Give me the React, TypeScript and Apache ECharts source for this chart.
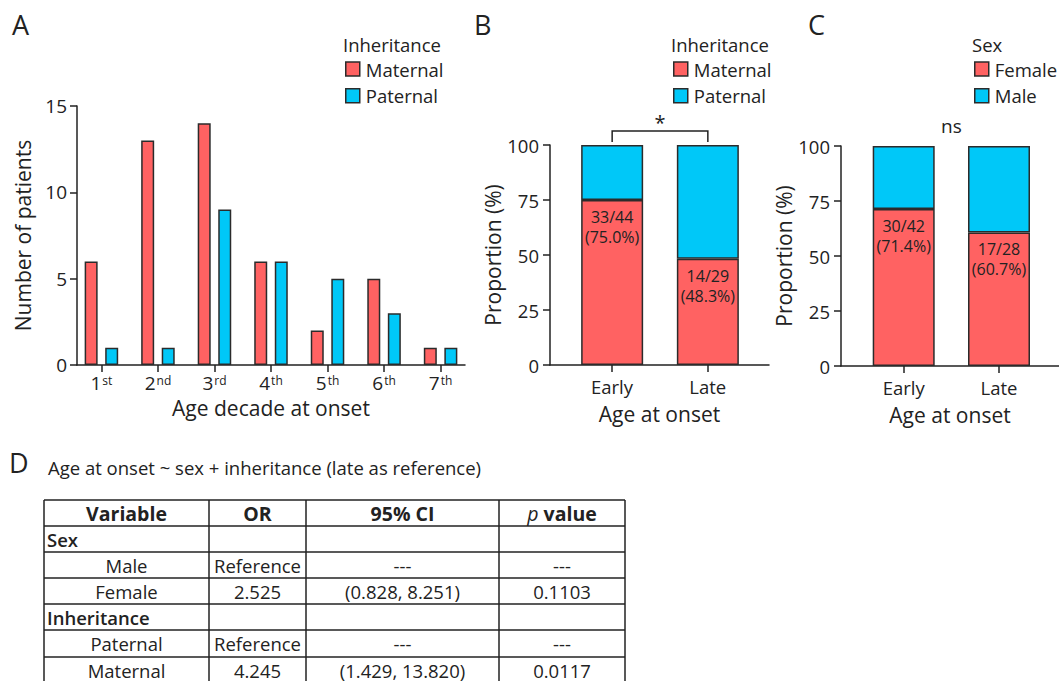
import React, { useEffect, useRef } from 'react';
import * as echarts from 'echarts';

// ---------- data ----------
const decadeNumbers = ['1', '2', '3', '4', '5', '6', '7'];
const decadeSuffix = ['st', 'nd', 'rd', 'th', 'th', 'th', 'th'];
const maternalByDecade = [6, 13, 14, 6, 2, 5, 1];
const paternalByDecade = [1, 1, 9, 6, 5, 3, 1];

const onsetGroups = ['Early', 'Late'];
const inhMaternalPct = [75.0, 48.3];
const inhPaternalPct = [25.0, 51.7];
const inhMaternalCount = ['33/44', '14/29'];

const sexFemalePct = [71.4, 60.7];
const sexMalePct = [28.6, 39.3];
const sexFemaleCount = ['30/42', '17/28'];

const sigB = '*';
const sigC = 'ns';

const tableTitle = 'Age at onset ~ sex + inheritance (late as reference)';
const tableHeader = ['Variable', 'OR', '95% CI', '{i|p} value'];
const tableRows = [
  ['Sex', '', '', ''],
  ['Male', 'Reference', '---', '---'],
  ['Female', '2.525', '(0.828, 8.251)', '0.1103'],
  ['Inheritance', '', '', ''],
  ['Paternal', 'Reference', '---', '---'],
  ['Maternal', '4.245', '(1.429, 13.820)', '0.0117'],
];
const groupRow = [true, false, false, true, false, false];

// ---------- style ----------
const FONT = '"Open Sans", "Noto Sans", sans-serif';
const INK = '#222222';
const RED = '#FF6262';
const BLUE = '#00C8F8';
const EDGE = '#2b2b2b';

const colEdges = [44, 209, 306, 499, 625];
const rowEdges = [500, 526, 552, 578, 604, 630, 657, 683];

const axisCommon = {
  axisLine: { show: true, lineStyle: { color: INK, width: 1.5 } },
  axisTick: { show: true, length: 7, lineStyle: { color: INK, width: 1.5 } },
  splitLine: { show: false },
};

const yAxisVisible = (gridIndex: number, max: number, interval: number, name: string, nameGap: number, fs: number, margin: number) => ({
  type: 'value',
  gridIndex,
  min: 0,
  max,
  interval,
  name,
  nameLocation: 'middle',
  nameRotate: 90,
  nameGap,
  nameTextStyle: { fontSize: 21, color: INK, fontFamily: FONT },
  ...axisCommon,
  axisLabel: { fontSize: fs, color: INK, fontFamily: FONT, margin },
});

const yAxisHidden = (gridIndex: number) => ({
  type: 'value',
  gridIndex,
  min: 0,
  max: 100,
  show: false,
  splitLine: { show: false },
});

// axis carrying the visible x line, ticks and labels of panels B and C
const xAxisGroupsLine = (gridIndex: number, min: number, max: number, nameGap: number) => ({
  type: 'value',
  gridIndex,
  min,
  max,
  name: 'Age at onset',
  nameLocation: 'middle',
  nameGap,
  nameTextStyle: { fontSize: 21, color: INK, fontFamily: FONT },
  ...axisCommon,
  axisTick: { ...axisCommon.axisTick, customValues: [1, 2] },
  axisLabel: {
    customValues: [1, 2],
    fontSize: 18.5,
    lineHeight: 20,
    color: INK,
    fontFamily: FONT,
    margin: 11,
    formatter: (v: number) => onsetGroups[Math.round(v) - 1] ?? '',
  },
});

// category axis on which the stacked bars of panels B and C are laid out
const xAxisGroupsBars = (gridIndex: number) => ({
  type: 'category',
  gridIndex,
  data: onsetGroups,
  show: false,
});

const barEdge = { borderColor: EDGE, borderWidth: 1.5 };

const legendBase = (left: number, data: string[]) => ({
  left,
  top: 59,
  orient: 'vertical',
  padding: 0,
  itemWidth: 14,
  itemHeight: 14,
  itemGap: 6.7,
  icon: 'rect',
  itemStyle: { borderColor: EDGE, borderWidth: 1.5 },
  textStyle: { fontSize: 18.5, lineHeight: 20, color: INK, fontFamily: FONT, padding: [0, 0, 0, 1] },
  selectedMode: false,
  data,
});

const pctLabel = (counts: string[], pcts: number[]) => ({
  show: true,
  position: 'insideTop',
  distance: 7,
  fontSize: 16,
  lineHeight: 20,
  color: INK,
  fontFamily: FONT,
  formatter: (p: any) => `${counts[p.dataIndex]}\n(${pcts[p.dataIndex].toFixed(1)}%)`,
});

const option: any = {
  animation: false,
  backgroundColor: '#ffffff',
  textStyle: { fontFamily: FONT },
  grid: [
    { left: 77, top: 106, width: 388, height: 259 },
    { left: 550, top: 145, width: 219, height: 220 },
    { left: 841, top: 146, width: 218, height: 220 },
    { left: 564.3, top: 145, width: 191.4, height: 220 },
    { left: 856.05, top: 146, width: 190.6, height: 220 },
  ],
  legend: [
    legendBase(345, ['Maternal', 'Paternal']),
    legendBase(673, ['Maternal', 'Paternal']),
    legendBase(974, ['Female', 'Male']),
  ],
  xAxis: [
    {
      type: 'value',
      gridIndex: 0,
      min: 0.568,
      max: 7.432,
      name: 'Age decade at onset',
      nameLocation: 'middle',
      nameGap: 32,
      nameTextStyle: { fontSize: 21, color: INK, fontFamily: FONT },
      ...axisCommon,
      axisTick: { ...axisCommon.axisTick, customValues: [1, 2, 3, 4, 5, 6, 7] },
      axisLabel: {
        customValues: [1, 2, 3, 4, 5, 6, 7],
        margin: 9,
        formatter: (v: number) => {
          const i = Math.round(v) - 1;
          return `{n|${decadeNumbers[i]}}{s|${decadeSuffix[i]}}`;
        },
        rich: {
          n: { fontSize: 19, color: INK, fontFamily: FONT, lineHeight: 18, verticalAlign: 'bottom' },
          s: { fontSize: 12, color: INK, fontFamily: FONT, lineHeight: 18, verticalAlign: 'top', padding: [0, 0, 0, 1] },
        },
      },
    },
    xAxisGroupsLine(1, 0.352, 2.64, 38),
    xAxisGroupsLine(2, 0.342, 2.63, 38),
    xAxisGroupsBars(3),
    xAxisGroupsBars(4),
  ],
  yAxis: [
    yAxisVisible(0, 15, 5, 'Number of patients', 44, 19, 10),
    yAxisVisible(1, 100, 25, 'Proportion (%)', 43, 18.5, 11),
    yAxisVisible(2, 100, 25, 'Proportion (%)', 41, 18.5, 11),
    yAxisHidden(3),
    yAxisHidden(4),
  ],
  series: [
    {
      name: 'Maternal',
      type: 'bar',
      xAxisIndex: 0,
      yAxisIndex: 0,
      barWidth: 13,
      barGap: '58%',
      itemStyle: { color: RED, ...barEdge },
      data: maternalByDecade.map((v, i) => [i + 1, v]),
    },
    {
      name: 'Paternal',
      type: 'bar',
      xAxisIndex: 0,
      yAxisIndex: 0,
      barWidth: 13,
      barGap: '58%',
      itemStyle: { color: BLUE, ...barEdge },
      data: paternalByDecade.map((v, i) => [i + 1, v]),
    },
    {
      name: 'Maternal',
      type: 'bar',
      xAxisIndex: 3,
      yAxisIndex: 3,
      stack: 'inh',
      barWidth: 62,
      itemStyle: { color: RED, ...barEdge },
      label: pctLabel(inhMaternalCount, inhMaternalPct),
      data: inhMaternalPct,
    },
    {
      name: 'Paternal',
      type: 'bar',
      xAxisIndex: 3,
      yAxisIndex: 3,
      stack: 'inh',
      barWidth: 62,
      itemStyle: { color: BLUE, ...barEdge },
      data: inhPaternalPct,
    },
    {
      name: 'Female',
      type: 'bar',
      xAxisIndex: 4,
      yAxisIndex: 4,
      stack: 'sex',
      barWidth: 62,
      itemStyle: { color: RED, ...barEdge },
      label: pctLabel(sexFemaleCount, sexFemalePct),
      data: sexFemalePct,
    },
    {
      name: 'Male',
      type: 'bar',
      xAxisIndex: 4,
      yAxisIndex: 4,
      stack: 'sex',
      barWidth: 62,
      itemStyle: { color: BLUE, ...barEdge },
      data: sexMalePct,
    },
  ],
};

const txt = (x: number, y: number, text: string, extra: any = {}) => ({
  type: 'text',
  x,
  y,
  silent: true,
  style: {
    text,
    fontFamily: FONT,
    fontSize: 18,
    fill: INK,
    align: 'left',
    verticalAlign: 'middle',
    ...extra,
  },
});

function buildGraphics(chart: any) {
  const els: any[] = [];
  // panel letters
  els.push(txt(12, 24, 'A', { fontSize: 27 }));
  els.push(txt(474, 24, 'B', { fontSize: 27 }));
  els.push(txt(808, 24, 'C', { fontSize: 27 }));
  els.push(txt(9, 462, 'D', { fontSize: 27 }));

  // legend titles
  els.push(txt(343, 44, 'Inheritance', { fontSize: 18.5 }));
  els.push(txt(671, 44, 'Inheritance', { fontSize: 18.5 }));
  els.push(txt(972, 44, 'Sex', { fontSize: 18.5 }));

  // significance bracket (B)
  const b1 = chart.convertToPixel({ xAxisIndex: 3, yAxisIndex: 3 }, [0, 100]);
  const b2 = chart.convertToPixel({ xAxisIndex: 3, yAxisIndex: 3 }, [1, 100]);
  const top = b1[1] - 14;
  els.push({
    type: 'polyline',
    silent: true,
    shape: { points: [[b1[0], b1[1] - 3], [b1[0], top], [b2[0], top], [b2[0], b2[1] - 3]] },
    style: { stroke: INK, lineWidth: 1.5, fill: null },
  });
  els.push(txt((b1[0] + b2[0]) / 2, top - 9, sigB, { fontSize: 20, align: 'center' }));

  // ns (C)
  const c1 = chart.convertToPixel({ xAxisIndex: 4, yAxisIndex: 4 }, [0, 100]);
  const c2 = chart.convertToPixel({ xAxisIndex: 4, yAxisIndex: 4 }, [1, 100]);
  els.push(txt((c1[0] + c2[0]) / 2, c1[1] - 20, sigC, { fontSize: 19, align: 'center' }));

  // table title
  els.push(txt(48, 467, tableTitle, { fontSize: 18.5 }));

  // table grid lines
  const x0 = colEdges[0];
  const x1 = colEdges[colEdges.length - 1];
  const y0 = rowEdges[0];
  const y1 = rowEdges[rowEdges.length - 1];
  rowEdges.forEach((y) => {
    els.push({ type: 'line', silent: true, shape: { x1: x0, y1: y, x2: x1, y2: y }, style: { stroke: INK, lineWidth: 1.5 } });
  });
  colEdges.forEach((x) => {
    els.push({ type: 'line', silent: true, shape: { x1: x, y1: y0, x2: x, y2: y1 }, style: { stroke: INK, lineWidth: 1.5 } });
  });

  // header
  tableHeader.forEach((h, c) => {
    const cx = (colEdges[c] + colEdges[c + 1]) / 2;
    const cy = (rowEdges[0] + rowEdges[1]) / 2;
    els.push(
      txt(cx, cy, h, {
        fontSize: 19.5,
        fontWeight: 'bold',
        align: 'center',
        rich: { i: { fontStyle: 'italic', fontWeight: 'normal', fontSize: 19.5, fontFamily: FONT, fill: INK } },
      })
    );
  });

  // body
  tableRows.forEach((row, r) => {
    const cy = (rowEdges[r + 1] + rowEdges[r + 2]) / 2;
    row.forEach((cell, c) => {
      if (!cell) return;
      if (groupRow[r] && c === 0) {
        els.push(txt(colEdges[0] + 3, cy, cell, { fontSize: 18.5, fontWeight: 600 }));
      } else {
        const cx = (colEdges[c] + colEdges[c + 1]) / 2;
        els.push(txt(cx, cy, cell, { fontSize: 18.5, align: 'center' }));
      }
    });
  });
  return els;
}

export default function App() {
  const ref = useRef<HTMLDivElement>(null);
  useEffect(() => {
    if (!ref.current) return;
    const chart = echarts.init(ref.current, null, { renderer: 'svg' });
    chart.setOption(option);
    chart.setOption({ graphic: { elements: buildGraphics(chart) } });
    return () => chart.dispose();
  }, []);
  return (
    <div
      ref={ref}
      style={{ position: 'absolute', left: 0, top: 0, width: 1059, height: 681, background: '#fff' }}
    />
  );
}
